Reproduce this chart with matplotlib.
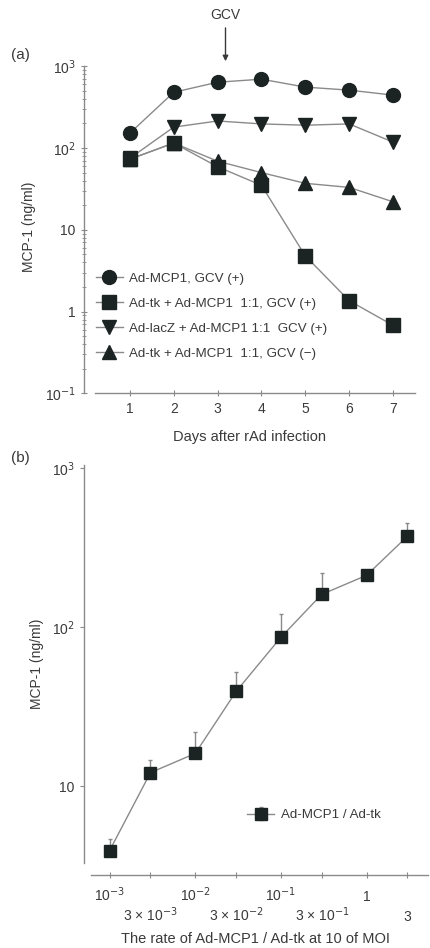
import numpy as np
import matplotlib
matplotlib.use("Agg")
import matplotlib.pyplot as plt
from matplotlib.ticker import FixedLocator, LogLocator, NullFormatter, NullLocator

plt.rcParams['font.family'] = ['Liberation Sans', 'DejaVu Sans']

# panel (a) data: MCP-1 (ng/ml) vs days after infection
days = [1, 2, 3, 4, 5, 6, 7]
mcp1_gcv = [152, 480, 637, 694, 555, 510, 443]
tk_mcp1_gcv = [73, 115, 59, 35, 4.8, 1.36, 0.68]
lacz_mcp1_gcv = [75, 180, 214, 197, 190, 197, 118]
tk_mcp1_nogcv = [73, 115, 69, 50, 37, 33, 22]
tk_mcp1_nogcv_err = [0, 0, 8, 5, 3, 5, 2]
labels_a = ["Ad-MCP1, GCV (+)",
            "Ad-tk + Ad-MCP1  1:1, GCV (+)",
            "Ad-lacZ + Ad-MCP1 1:1  GCV (+)",
            "Ad-tk + Ad-MCP1  1:1, GCV (\u2212)"]

# panel (b) data: MCP-1 vs Ad-MCP1 / Ad-tk ratio
ratio = [1e-3, 3e-3, 1e-2, 3e-2, 1e-1, 3e-1, 1, 3]
mcp1_b = [3.95, 12.2, 16.1, 39.5, 86.5, 161, 212, 373]
mcp1_b_err = [0.75, 2.4, 5.8, 12.5, 35, 58, 0, 78]
major_labels_b = ["10$^{-3}$", "10$^{-2}$", "10$^{-1}$", "1"]
minor_labels_b = ["3 \u00d7 10$^{-3}$", "3 \u00d7 10$^{-2}$", "3 \u00d7 10$^{-1}$", "3"]

txt = "#3a3a3a"
line = "#8a8a8a"
mk = "#1c2323"

fig = plt.figure(figsize=(4.3, 9.48), dpi=100)

# ---------- panel (a)
ax1 = fig.add_axes([0.195, 0.585, 0.77, 0.352])
ax1.set_yscale("log")
ax1.plot(days, mcp1_gcv, color=line, lw=1, marker="o", ms=10, mfc=mk, mec=mk,
         label=labels_a[0], zorder=3)
ax1.plot(days, tk_mcp1_gcv, color=line, lw=1, marker="s", ms=10, mfc=mk, mec=mk,
         label=labels_a[1], zorder=4)
ax1.plot(days, lacz_mcp1_gcv, color=line, lw=1, marker="v", ms=10, mfc=mk, mec=mk,
         label=labels_a[2], zorder=3)
ax1.errorbar(days, tk_mcp1_nogcv, yerr=[np.zeros(7), tk_mcp1_nogcv_err], color=line,
             lw=1, marker="^", ms=10, mfc=mk, mec=mk, ecolor=line, elinewidth=1,
             capsize=0, label=labels_a[3], zorder=3)
ax1.set_xlim(-0.05, 7.5)
ax1.set_ylim(0.1, 1200)
ax1.set_xticks(days)
ax1.set_yticks([0.1, 1, 10, 100, 1000])
ax1.set_yticklabels(["10$^{-1}$", "1", "10", "10$^{2}$", "10$^{3}$"])
ax1.yaxis.set_minor_locator(LogLocator(base=10, subs=np.arange(2, 10)))
ax1.yaxis.set_minor_formatter(NullFormatter())
for s in ["top", "right"]:
    ax1.spines[s].set_visible(False)
ax1.spines["left"].set_bounds(0.1, 1000)
ax1.spines["bottom"].set_bounds(0.2, 7.5)
for s in ["left", "bottom"]:
    ax1.spines[s].set_color(line)
    ax1.spines[s].set_linewidth(1)
ax1.tick_params(axis="both", which="major", direction="inout", length=5, width=0.8,
                colors=line, labelcolor=txt, labelsize=10)
ax1.tick_params(axis="y", which="minor", direction="inout", length=3, width=0.6,
                colors=line)
ax1.set_xlabel("Days after rAd infection", color=txt, fontsize=10.5, labelpad=10)
ax1.set_ylabel("MCP-1 (ng/ml)", color=txt, fontsize=10, labelpad=6)
ax1.legend(loc="lower left", bbox_to_anchor=(0.0, 0.065), frameon=False,
           fontsize=9.6, handlelength=2.0, handletextpad=0.5,
           labelspacing=0.95, labelcolor=txt)
ax1.annotate("GCV", xy=(3.18, 1150), xytext=(0, 28), textcoords="offset points",
             xycoords="data", ha="center", va="bottom", color=txt, fontsize=10,
             annotation_clip=False,
             arrowprops=dict(arrowstyle="-|>", color=txt, lw=1, mutation_scale=8,
                             shrinkA=2, shrinkB=0))
fig.text(0.025, 0.942, "(a)", color=txt, fontsize=11, va="center")

# ---------- panel (b)
ax2 = fig.add_axes([0.195, 0.0897, 0.80, 0.42])
ax2.set_xscale("log")
ax2.set_yscale("log")
ax2.errorbar(ratio, mcp1_b, yerr=[np.zeros(len(ratio)), mcp1_b_err], color=line,
             lw=1, marker="s", ms=8.5, mfc=mk, mec=mk, ecolor=line, elinewidth=1,
             capsize=1.5, label="Ad-MCP1 / Ad-tk", zorder=3)
ax2.set_xlim(5e-4, 5.2)
ax2.set_ylim(3.3, 1050)
ax2.xaxis.set_major_locator(FixedLocator([1e-3, 1e-2, 1e-1, 1]))
ax2.xaxis.set_minor_locator(FixedLocator([3e-3, 3e-2, 3e-1, 3]))
ax2.set_xticklabels(major_labels_b)
ax2.set_xticklabels(minor_labels_b, minor=True)
ax2.set_yticks([10, 100, 1000])
ax2.set_yticklabels(["10", "10$^{2}$", "10$^{3}$"])
ax2.yaxis.set_minor_locator(NullLocator())
for s in ["top", "right"]:
    ax2.spines[s].set_visible(False)
ax2.spines["bottom"].set_position(("outward", 9))
ax2.spines["bottom"].set_bounds(6e-4, 5.2)
for s in ["left", "bottom"]:
    ax2.spines[s].set_color(line)
    ax2.spines[s].set_linewidth(1)
ax2.tick_params(axis="x", which="major", direction="inout", length=5, width=0.8,
                colors=line, labelcolor=txt, labelsize=10, pad=16)
ax2.tick_params(axis="x", which="minor", direction="inout", length=5, width=0.8,
                colors=line, labelcolor=txt, labelsize=10, pad=30)
for lab in ax2.get_xticklabels() + ax2.get_xticklabels(minor=True):
    lab.set_va("baseline")
ax2.tick_params(axis="y", which="major", direction="out", length=3, width=0.8,
                colors=line, labelcolor=txt, labelsize=10)
ax2.set_xlabel("The rate of Ad-MCP1 / Ad-tk at 10 of MOI", color=txt, fontsize=10.5,
               labelpad=6)
ax2.set_ylabel("MCP-1 (ng/ml)", color=txt, fontsize=10, labelpad=6)
ax2.legend(loc="center left", bbox_to_anchor=(0.44, 0.12), frameon=False,
           fontsize=9.6, handlelength=2.0, handletextpad=0.5, labelcolor=txt)
fig.text(0.025, 0.517, "(b)", color=txt, fontsize=11, va="center")

fig.savefig("out.png", dpi=100)
